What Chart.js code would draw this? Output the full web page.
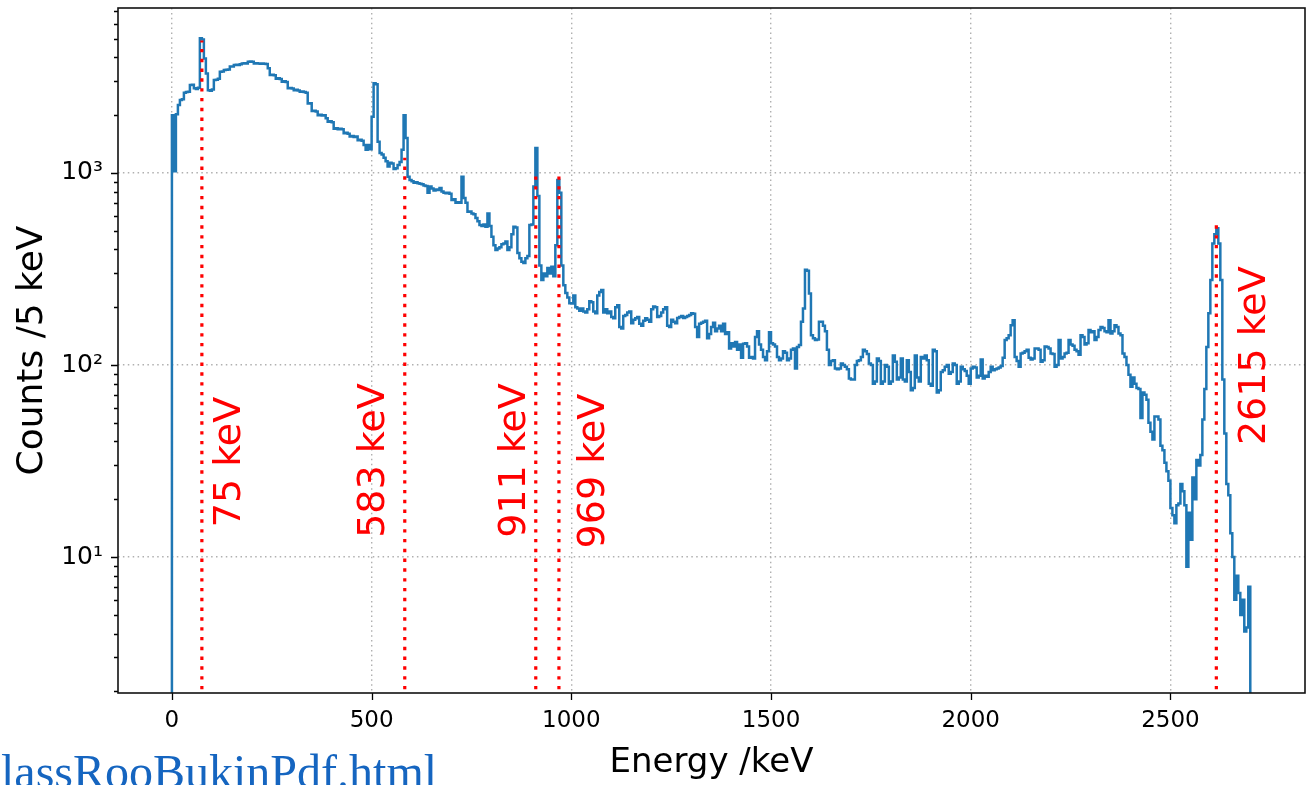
<!DOCTYPE html>
<html>
<head>
<meta charset="utf-8">
<script src="https://cdn.jsdelivr.net/npm/chart.js@4/dist/chart.umd.min.js"></script>
<style>
  html, body { margin: 0; padding: 0; background: #fff; }
  #wrap { position: relative; width: 1311px; height: 785px; overflow: hidden; }
  #chart { position: absolute; left: 0; top: 0; }
  #link {
    position: absolute; left: 1px; top: 748px;
    font-family: "Liberation Serif", "DejaVu Serif", serif;
    font-size: 48px; line-height: 48px; color: #1565c0; white-space: nowrap;
  }
</style>
</head>
<body>
<div id="wrap">
  <canvas id="chart" width="1311" height="785"></canvas>
  <div id="link">lassRooBukinPdf.html</div>
</div>
<script>
// histogram: 5 keV bins starting at 0 keV
const binStart = 0;
const binWidth = 5;
const counts = [
  // 0 - 95
  2000, 1020, 2020, 2260, 2400, 2420, 2620, 2640, 2650, 2870, 2880, 2760, 2740, 2780, 5030, 4950, 3950, 3300, 2700, 2680,
  // 100 - 195
  2720, 3050, 3060, 3100, 3370, 3380, 3440, 3450, 3460, 3580, 3590, 3650, 3660, 3650, 3680, 3720, 3730, 3720, 3800, 3810,
  // 200 - 295
  3800, 3720, 3730, 3720, 3710, 3720, 3700, 3690, 3510, 3240, 3250, 3230, 3100, 3110, 3090, 2990, 3000, 2980, 2760, 2770,
  // 300 - 395
  2750, 2700, 2710, 2690, 2650, 2660, 2640, 2620, 2300, 2310, 2100, 2110, 2090, 2000, 2010, 1990, 2000, 1925, 1850, 1860,
  // 400 - 495
  1840, 1700, 1710, 1690, 1700, 1690, 1610, 1620, 1600, 1550, 1560, 1540, 1550, 1480, 1490, 1470, 1400, 1320, 1400, 1330,
  // 500 - 595
  1960, 2930, 2900, 1455, 1270, 1250, 1200, 1150, 1080, 1130, 1120, 1050, 1060, 1100, 1140, 1320, 2000, 1520, 956, 920,
  // 600 - 695
  905, 890, 895, 885, 880, 875, 860, 855, 790, 850, 830, 810, 820, 815, 835, 800, 790, 785, 790, 780,
  // 700 - 795
  723, 730, 700, 705, 700, 956, 740, 700, 628, 630, 615, 610, 583, 560, 536, 530, 540, 525, 615, 530,
  // 800 - 895
  466, 420, 397, 405, 410, 425, 430, 440, 397, 410, 480, 525, 520, 383, 360, 345, 340, 360, 370, 536,
  // 900 - 995
  540, 850, 1350, 760, 330, 277, 300, 290, 320, 300, 325, 290, 420, 920, 790, 330, 260, 237, 225, 210,
  // 1000 - 1095
  209, 230, 200, 197, 192, 197, 190, 188, 195, 215, 212, 190, 186, 230, 240, 246, 188, 195, 186, 190,
  // 1100 - 1195
  178, 175, 200, 205, 158, 155, 180, 182, 188, 190, 165, 172, 175, 178, 164, 160, 170, 175, 172, 168,
  // 1200 - 1295
  195, 202, 200, 178, 180, 188, 195, 200, 160, 158, 172, 168, 165, 176, 178, 180, 176, 178, 180, 182,
  // 1300 - 1395
  186, 185, 158, 140, 164, 166, 168, 170, 138, 145, 158, 166, 150, 155, 160, 150, 164, 145, 148, 122,
  // 1400 - 1495
  130, 125, 132, 120, 128, 109, 129, 130, 125, 109, 110, 108, 140, 150, 128, 120, 110, 106, 118, 148,
  // 1500 - 1595
  130, 128, 125, 110, 106, 108, 118, 116, 106, 108, 120, 122, 96, 124, 127, 168, 197, 313, 310, 236,
  // 1600 - 1695
  143, 138, 135, 136, 168, 168, 160, 150, 120, 100, 105, 106, 96, 95, 96, 102, 100, 98, 95, 85,
  // 1700 - 1795
  84, 84, 100, 105, 106, 110, 120, 118, 114, 102, 100, 80, 82, 108, 105, 80, 82, 100, 98, 80,
  // 1800 - 1895
  82, 112, 104, 84, 86, 108, 84, 82, 106, 92, 74, 76, 112, 86, 82, 110, 108, 112, 106, 80,
  // 1900 - 1995
  78, 120, 118, 72, 74, 92, 94, 98, 100, 90, 92, 102, 100, 80, 82, 98, 95, 93, 88, 80,
  // 2000 - 2095
  96, 98, 97, 86, 88, 107, 85, 88, 87, 92, 98, 94, 95, 96, 97, 99, 109, 135, 138, 143,
  // 2100 - 2195
  161, 171, 110, 105, 98, 115, 116, 118, 120, 109, 107, 108, 122, 122, 120, 104, 106, 125, 124, 122,
  // 2200 - 2295
  115, 114, 98, 100, 135, 108, 110, 115, 116, 135, 128, 126, 120, 118, 113, 143, 140, 128, 130, 152,
  // 2300 - 2395
  148, 150, 135, 140, 152, 158, 156, 150, 148, 171, 146, 150, 161, 158, 146, 143, 115, 110, 100, 89,
  // 2400 - 2495
  77, 86, 80, 76, 75, 53, 72, 70, 66, 50, 45, 41, 54, 54, 52, 38, 36, 31, 28, 25,
  // 2500 - 2595
  18, 16.5, 15, 18.6, 19, 24, 22, 18.6, 8.9, 17, 12.3, 26, 20, 32, 30, 34, 52, 75, 124, 186,
  // 2600 - 2695
  277, 430, 480, 515, 430, 277, 84, 44, 24, 21, 13.3, 10, 6, 8, 6.5, 5, 6, 4.1, 4.3, 7
];

// peak markers
const peakEnergies = [75, 583, 911, 969, 2615];
const peakLineTops = [4900, 1200, 960, 960, 540];
const peakLabels = ['75 keV', '583 keV', '911 keV', '969 keV', '2615 keV'];

// axes
const xTicks = [0, 500, 1000, 1500, 2000, 2500];
const yMajorTicks = [10, 100, 1000];
const xRange = [-135, 2837];
const yRange = [1.96, 7230];
const offScale = 0.5; // below the axis, clipped away

// where the rotated peak labels start (data units), layout only
const labelAnchors = [
  { x: 146, y: 14.3 }, { x: 506, y: 12.6 }, { x: 860, y: 12.6 },
  { x: 1058, y: 11.1 }, { x: 2712, y: 38.3 }
];

const supers = { 1: '\u00b9', 2: '\u00b2', 3: '\u00b3' };
const isMajor = v => yMajorTicks.includes(v);

// build step points at bin edges
const histPoints = [{ x: binStart, y: offScale }];
counts.forEach((c, i) => histPoints.push({ x: binStart + i * binWidth, y: c }));
const histEnd = binStart + counts.length * binWidth;
histPoints.push({ x: histEnd, y: counts[counts.length - 1] });
histPoints.push({ x: histEnd, y: offScale });

const markerSets = peakEnergies.map((e, i) => ({
  data: [{ x: e, y: offScale }, { x: e, y: peakLineTops[i] }],
  borderColor: '#ff0000',
  borderWidth: 3.2,
  borderDash: [3.4, 6.4],
  pointRadius: 0,
  order: 0
}));

const framePlugin = {
  id: 'frame',
  afterDraw(chart) {
    const { ctx, chartArea: a, scales } = chart;
    ctx.save();
    // peak labels
    ctx.fillStyle = '#ff0000';
    ctx.font = '38px "DejaVu Sans"';
    ctx.textAlign = 'left';
    ctx.textBaseline = 'middle';
    peakLabels.forEach((txt, i) => {
      const px = scales.x.getPixelForValue(labelAnchors[i].x);
      const py = scales.y.getPixelForValue(labelAnchors[i].y);
      ctx.save();
      ctx.translate(px, py);
      ctx.rotate(-Math.PI / 2);
      ctx.fillText(txt, 0, 0);
      ctx.restore();
    });
    // tick marks
    ctx.strokeStyle = '#000';
    ctx.lineWidth = 1.3;
    ctx.beginPath();
    xTicks.forEach(v => {
      const px = Math.round(scales.x.getPixelForValue(v)) + 0.5;
      ctx.moveTo(px, a.bottom);
      ctx.lineTo(px, a.bottom + 7);
    });
    scales.y.ticks.forEach(t => {
      const py = Math.round(scales.y.getPixelForValue(t.value)) + 0.5;
      ctx.moveTo(a.left, py);
      ctx.lineTo(a.left - (isMajor(t.value) ? 7 : 4), py);
    });
    ctx.stroke();
    // frame
    ctx.strokeStyle = '#111';
    ctx.lineWidth = 1.6;
    ctx.strokeRect(a.left, a.top, a.right - a.left, a.bottom - a.top);
    ctx.restore();
  }
};

const gridDash = [1.5, 3.4];

new Chart(document.getElementById('chart'), {
  type: 'line',
  data: {
    datasets: [
      ...markerSets,
      {
        data: histPoints,
        stepped: 'before',
        borderColor: '#1f77b4',
        borderWidth: 2.5,
        pointRadius: 0,
        order: 1
      }
    ]
  },
  options: {
    responsive: false,
    animation: false,
    devicePixelRatio: 1,
    layout: { padding: { left: 0, right: 6, top: 8, bottom: 0 } },
    plugins: { legend: { display: false }, tooltip: { enabled: false } },
    scales: {
      x: {
        type: 'linear',
        min: xRange[0],
        max: xRange[1],
        bounds: 'data',
        afterBuildTicks: s => { s.ticks = xTicks.map(v => ({ value: v })); },
        afterFit: s => { s.height = 92; s.paddingLeft = 0; s.paddingRight = 0; },
        ticks: {
          autoSkip: false,
          maxRotation: 0,
          padding: 14,
          color: '#000',
          font: { family: 'DejaVu Sans', size: 23 },
          callback: v => String(v)
        },
        grid: { color: '#b0b0b0', lineWidth: 1.4, drawTicks: false },
        border: { display: false, dash: gridDash },
        title: {
          display: true,
          text: 'Energy /keV',
          color: '#000',
          font: { family: 'DejaVu Sans', size: 34, lineHeight: 1.2 },
          padding: { top: 0, bottom: 1 }
        }
      },
      y: {
        type: 'logarithmic',
        min: yRange[0],
        max: yRange[1],
        bounds: 'data',
        afterBuildTicks: s => {
          const vals = [];
          for (let p = 0; p <= 3; p++) {
            for (let m = 1; m <= 9; m++) {
              const v = m * Math.pow(10, p);
              if (v >= yRange[0] && v <= yRange[1]) vals.push(v);
            }
          }
          s.ticks = vals.map(v => ({ value: v, major: isMajor(v) }));
        },
        afterFit: s => { s.width = 118; s.paddingTop = 0; s.paddingBottom = 0; },
        ticks: {
          autoSkip: false,
          padding: 15,
          color: '#000',
          font: { family: 'DejaVu Sans', size: 25 },
          callback: v => isMajor(v) ? '10' + supers[Math.round(Math.log10(v))] : ''
        },
        grid: {
          color: c => (c.tick && isMajor(c.tick.value)) ? '#b0b0b0' : 'rgba(0,0,0,0)',
          lineWidth: 1.4,
          drawTicks: false
        },
        border: { display: false, dash: gridDash },
        title: {
          display: true,
          text: 'Counts /5 keV',
          color: '#000',
          font: { family: 'DejaVu Sans', size: 36, lineHeight: 1.2 },
          padding: { top: 11, bottom: 0 }
        }
      }
    }
  },
  plugins: [framePlugin]
});
</script>
</body>
</html>
